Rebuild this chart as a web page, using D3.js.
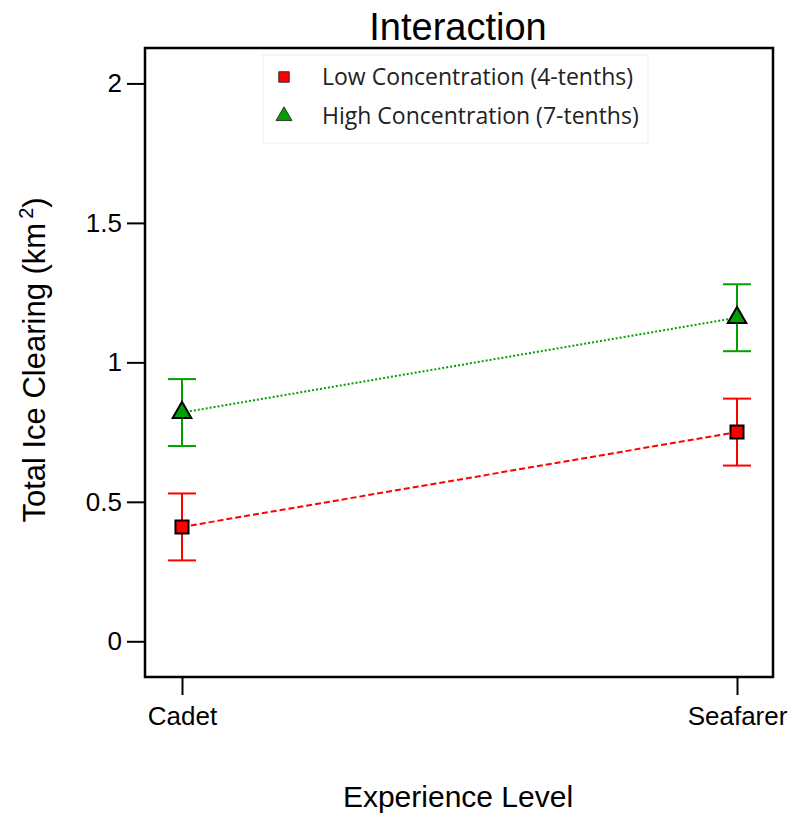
<!DOCTYPE html>
<html><head><meta charset="utf-8">
<script src="https://cdn.jsdelivr.net/npm/d3@7"></script>
<style>body{margin:0;background:#fff}svg{display:block}</style>
</head><body>
<svg id="c" width="794" height="820"></svg>
<script>
const categories = ["Cadet", "Seafarer"];
const seriesNames = ["Low Concentration (4-tenths)", "High Concentration (7-tenths)"];
const lowMean = [0.41, 0.75];
const lowErr = [0.12, 0.12];
const highMean = [0.82, 1.16];
const highErr = [0.12, 0.12];
const yTicks = [0, 0.5, 1, 1.5, 2];
const yTickLabels = ["0", "0.5", "1", "1.5", "2"];

const svg = d3.select("#c");
const L = 145, R = 773, T = 48, B = 677;
const y = d3.scaleLinear().domain([-0.128, 2.127]).range([B, T]);
const x = d3.scalePoint().domain(categories).range([182, 737]);
const font = "Liberation Sans, Arial, sans-serif";

// legend box
svg.append("rect").attr("x", 263).attr("y", 55).attr("width", 385).attr("height", 88)
  .attr("fill", "none").attr("stroke", "#eeeeee").attr("stroke-width", 1);

// axes
const yAxis = d3.axisLeft(y).tickValues(yTicks).tickFormat((d,i)=>yTickLabels[i]).tickSize(18).tickSizeOuter(0);
const gy = svg.append("g").attr("transform", `translate(${L},0)`).call(yAxis);
gy.select(".domain").remove();
gy.selectAll("line").attr("stroke", "#000").attr("stroke-width", 2);
gy.selectAll("text").attr("font-family", font).attr("font-size", 26).attr("fill", "#000").attr("x", -23);

const xAxis = d3.axisBottom(x).tickSize(18).tickSizeOuter(0);
const gx = svg.append("g").attr("transform", `translate(0,${B})`).call(xAxis);
gx.select(".domain").remove();
gx.selectAll("line").attr("stroke", "#000").attr("stroke-width", 2);
gx.selectAll("text").attr("font-family", font).attr("font-size", 26).attr("fill", "#000").attr("y", 30);

// frame
svg.append("rect").attr("x", L).attr("y", T).attr("width", R - L).attr("height", B - T)
  .attr("fill", "none").attr("stroke", "#000").attr("stroke-width", 2.5);

const series = [
  {mean: lowMean, err: lowErr, color: "#ff0000", dash: "6,3", sym: d3.symbolSquare, size: 170},
  {mean: highMean, err: highErr, color: "#00a000", dash: "2,2", sym: d3.symbolTriangle, size: 150}
];
const line = d3.line().x((d,i)=>x(categories[i])).y(d=>y(d));
series.forEach(s => {
  svg.append("path").attr("d", line(s.mean)).attr("fill", "none")
    .attr("stroke", s.color).attr("stroke-width", 2).attr("stroke-dasharray", s.dash);
  s.mean.forEach((m, i) => {
    const cx = x(categories[i]);
    const g = svg.append("g").attr("stroke", s.color).attr("stroke-width", 2);
    g.append("line").attr("x1", cx).attr("x2", cx).attr("y1", y(m - s.err[i])).attr("y2", y(m + s.err[i]));
    g.append("line").attr("x1", cx - 14).attr("x2", cx + 14).attr("y1", y(m + s.err[i])).attr("y2", y(m + s.err[i]));
    g.append("line").attr("x1", cx - 14).attr("x2", cx + 14).attr("y1", y(m - s.err[i])).attr("y2", y(m - s.err[i]));
  });
  s.mean.forEach((m, i) => {
    svg.append("path").attr("d", d3.symbol().type(s.sym).size(s.size)())
      .attr("transform", `translate(${x(categories[i])},${y(m)})`)
      .attr("fill", s.color).attr("stroke", "#000").attr("stroke-width", 2);
  });
});

// legend
const legSyms = [{sym: d3.symbolSquare, size: 110, color: "#ff0000"}, {sym: d3.symbolTriangle, size: 110, color: "#00a000"}];
seriesNames.forEach((n, i) => {
  const ly = 77 + i * 39;
  svg.append("path").attr("d", d3.symbol().type(legSyms[i].sym).size(legSyms[i].size)())
    .attr("transform", `translate(284,${ly})`).attr("fill", legSyms[i].color).attr("stroke", "#333").attr("stroke-width", 1);
  svg.append("text").attr("x", 322).attr("y", ly).attr("dy", "0.35em")
    .attr("font-family", "Open Sans, sans-serif").attr("font-size", 23).attr("fill", "#222").text(n);
});

// titles
svg.append("text").attr("x", 458).attr("y", 40).attr("text-anchor", "middle")
  .attr("font-family", font).attr("font-size", 38).text("Interaction");
svg.append("text").attr("x", 458).attr("y", 807).attr("text-anchor", "middle")
  .attr("font-family", font).attr("font-size", 30).text("Experience Level");
const yl = svg.append("text").attr("transform", "translate(45,360) rotate(-90)").attr("text-anchor", "middle")
  .attr("font-family", font).attr("font-size", 31);
yl.append("tspan").text("Total Ice Clearing (km");
yl.append("tspan").attr("font-size", 20).attr("dx", 4).attr("dy", -12).text("2");
yl.append("tspan").attr("dy", 12).text(")");
</script>
</body></html>
